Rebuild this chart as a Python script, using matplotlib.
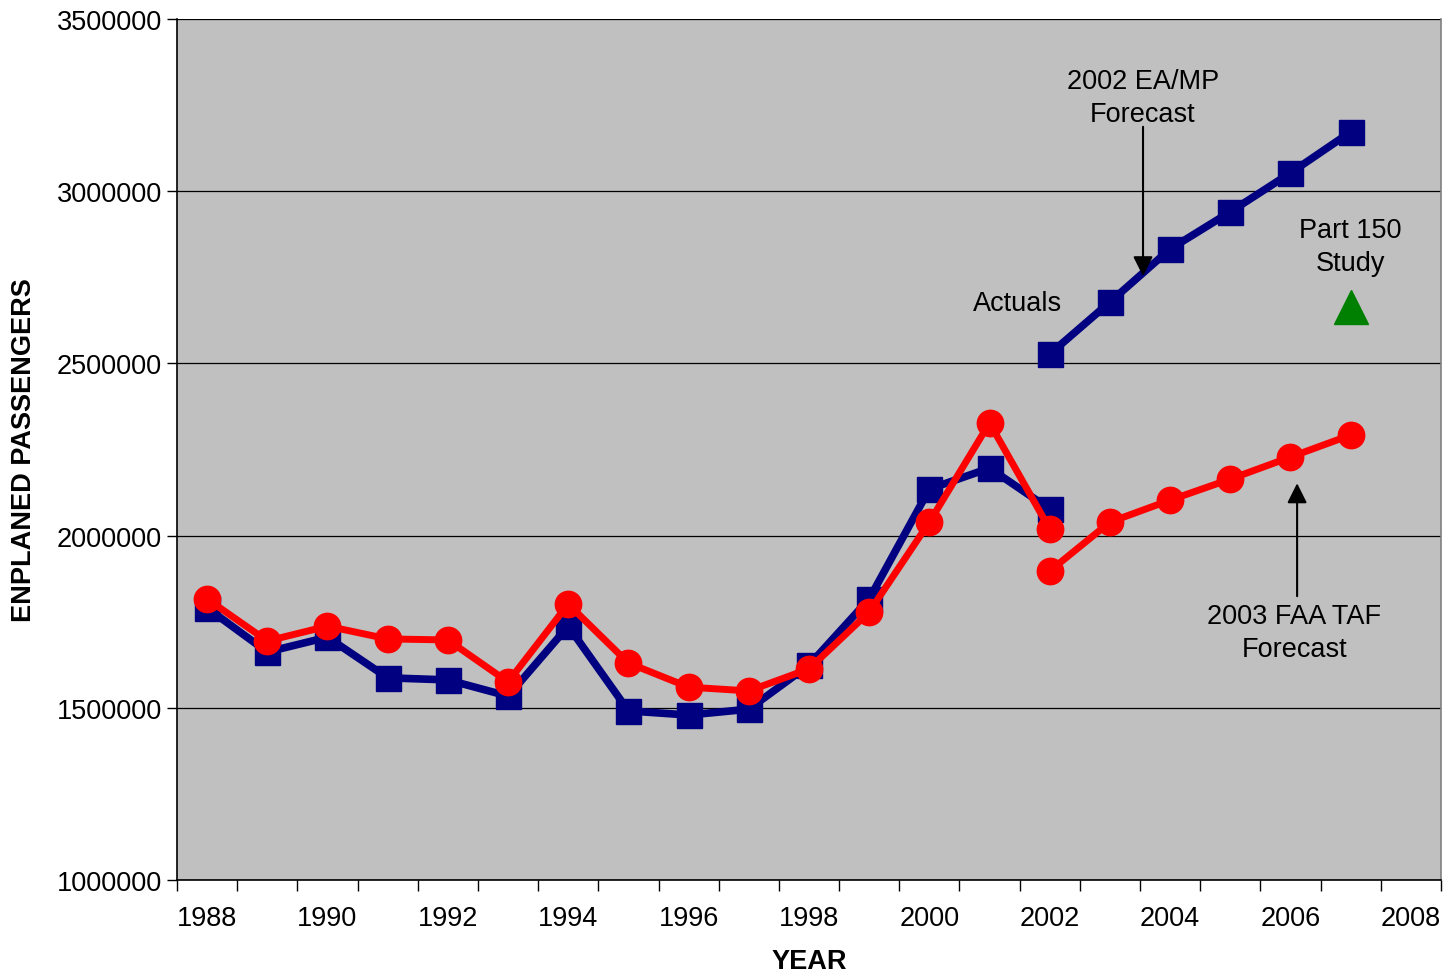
import numpy as np
import matplotlib.pyplot as plt

plt.rcParams['font.family'] = ['Liberation Sans', 'DejaVu Sans']

# historical years
years = np.arange(1988, 2003)
# blue series (squares) and red series (circles), 1988-2002
blue_hist = [1790000, 1662000, 1705000, 1587000, 1581000, 1534000, 1737000, 1491000,
             1479000, 1496000, 1624000, 1816000, 2135000, 2196000, 2077000]
red_hist = [1816000, 1694000, 1737000, 1700000, 1697000, 1575000, 1801000, 1630000,
            1560000, 1549000, 1613000, 1778000, 2039000, 2327000, 2019000]

# forecasts 2002-2007
fc_years = np.arange(2002, 2008)
eamp_fc = [2527000, 2678000, 2832000, 2940000, 3053000, 3172000]
taf_fc = [1897000, 2039000, 2103000, 2164000, 2228000, 2292000]

# Part 150 study point
p150_year = [2007]
p150_val = [2664000]

fig = plt.figure(figsize=(14.45, 9.79), dpi=100)
ax = fig.add_axes([0.1225, 0.1001, 0.8747, 0.8795])
ax.set_facecolor('#C0C0C0')

navy = '#000080'
red = '#FF0000'

ax.plot(years, blue_hist, color=navy, lw=5.5, marker='s', ms=18, zorder=3)
ax.plot(years, red_hist, color=red, lw=5, marker='o', ms=19, zorder=4)
ax.plot(fc_years, eamp_fc, color=navy, lw=5.5, marker='s', ms=18, zorder=3)
ax.plot(fc_years, taf_fc, color=red, lw=5, marker='o', ms=19, zorder=4)
ax.plot(p150_year, p150_val, ls='none', marker='^', color='#008000', ms=24, zorder=4)

ax.set_xlim(1987.5, 2008.5)
ax.set_ylim(1000000, 3500000)

ax.set_yticks(np.arange(1000000, 3500001, 500000))
ax.set_yticklabels([str(v) for v in range(1000000, 3500001, 500000)])
ax.yaxis.grid(True, color='black', lw=0.9)
ax.set_axisbelow(True)

# category axis: tick marks at boundaries, labels every other year
ax.set_xticks(np.arange(1987.5, 2009, 1.0))
ax.set_xticklabels([])
ax.set_xticks(np.arange(1988, 2009, 2), minor=True)
ax.set_xticklabels([str(y) for y in range(1988, 2009, 2)], minor=True)
ax.tick_params(axis='x', which='major', direction='out', length=8, width=1)
ax.tick_params(axis='x', which='minor', length=0, pad=18, labelsize=19.5)
ax.tick_params(axis='y', direction='out', length=7, width=1, labelsize=19.5, pad=4)

for s in ax.spines.values():
    s.set_color('black')
    s.set_linewidth(1.2)
ax.spines['top'].set_visible(False)
ax.spines['right'].set_color('#808080')

ax.set_xlabel('YEAR', fontsize=19.5, fontweight='bold', labelpad=12)
ax.set_ylabel('ENPLANED PASSENGERS', fontsize=19.5, fontweight='bold', labelpad=14)

# annotations
arrow = dict(arrowstyle='-|>', color='black', lw=1.5, mutation_scale=30)
ax.text(2003.55, 3272000, '2002 EA/MP\nForecast', ha='center', va='center',
        fontsize=19.5, linespacing=1.37)
ax.annotate('', xy=(2003.55, 2745000), xytext=(2003.55, 3195000), arrowprops=arrow)
ax.text(2001.46, 2675000, 'Actuals', ha='center', va='center', fontsize=19.5)
ax.text(2007.0, 2839000, 'Part 150\nStudy', ha='center', va='center',
        fontsize=19.5, linespacing=1.37)
ax.text(2006.06, 1719000, '2003 FAA TAF\nForecast', ha='center', va='center',
        fontsize=19.5, linespacing=1.37)
ax.annotate('', xy=(2006.11, 2160000), xytext=(2006.11, 1816000), arrowprops=arrow)

fig.savefig('out.png', dpi=100)
